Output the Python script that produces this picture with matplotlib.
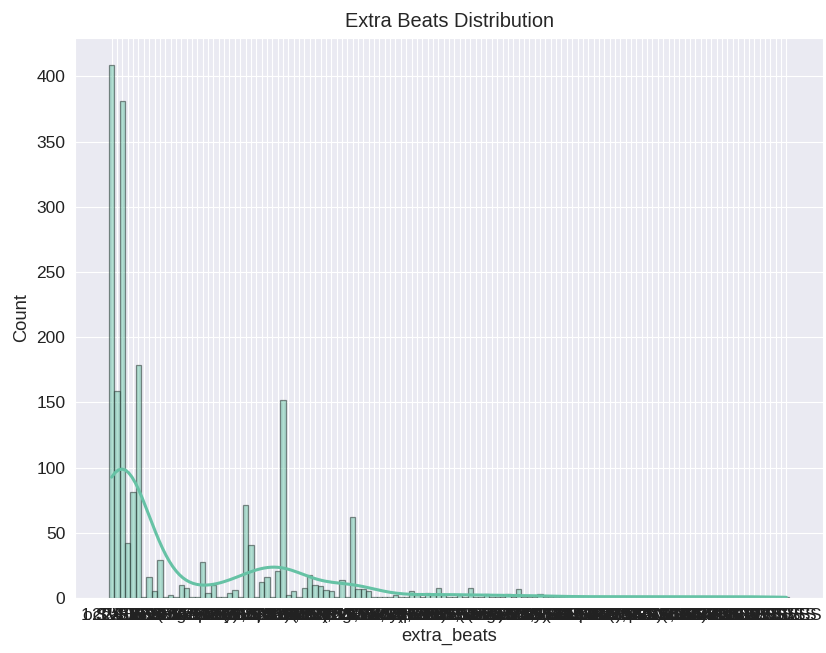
import numpy as np
import pandas as pd
import matplotlib
matplotlib.use("Agg")
import matplotlib.pyplot as plt
import seaborn as sns

# category labels (order of appearance) and how often each one occurs
categories = [
    "1 SVES", "2 VES", "1 VES", "3 SVES", "2 SVES", "4 VES", "occasional VES",
    "5 SVES", "6 VES", "3 VES", "12 SVES", "7 VES (bigeminy)", "9 SVES",
    "8 VES", "4 SVES", "11 SVES, 2 VES", "rare SVES", "5 VES", "10 VES",
    "6 SVES", "14 SVES (couplet)", "frequent VES", "13 VES", "7 SVES",
    "1 SVES, 1 VES", "8 SVES", "9 VES", "2 SVES, 1 VES", "15 SVES",
    "11 VES", "22 SVES (run)", "10 SVES", "12 VES", "19 SVES", "3 SVES, 2 VES",
    "16 VES", "14 VES", "17 SVES", "18 VES", "20 SVES", "4 SVES, 1 VES",
    "24 VES (trigeminy)", "13 SVES", "21 VES", "30 SVES, 3 VES", "15 VES",
    "25 SVES", "17 VES", "28 SVES", "33 VES", "5 SVES, 2 VES", "36 SVES (pairs)",
    "19 VES", "27 SVES", "40 VES", "6 SVES, 3 VES", "23 SVES", "20 VES",
    "44 SVES", "26 VES", "31 SVES", "29 VES", "52 SVES (runs)", "35 VES",
    "8 SVES, 4 VES", "38 SVES", "47 VES", "41 SVES", "58 VES (bigeminy)",
    "45 SVES", "62 VES", "10 SVES, 5 VES", "50 SVES", "66 VES", "56 SVES",
    "71 VES", "63 SVES", "12 SVES, 7 VES", "77 VES", "69 SVES", "84 VES",
    "74 SVES", "90 VES (couplets)", "81 SVES", "96 VES", "88 SVES",
    "15 SVES, 9 VES", "102 VES", "95 SVES", "109 VES", "101 SVES",
    "117 VES (triplet)", "108 SVES", "124 VES", "115 SVES", "20 SVES, 11 VES",
    "131 VES", "122 SVES", "139 VES", "130 SVES", "146 VES (runs)",
    "137 SVES", "152 VES", "145 SVES", "25 SVES, 14 VES", "159 VES",
    "153 SVES", "166 VES", "160 SVES", "173 VES", "168 SVES",
    "180 VES", "176 SVES", "187 SVES", "187 VES", "183 SVES",
    "194 VES", "49 SVES", "201 VES", "57 SVES", "208 VES",
    "64 SVES", "72 SVES", "78 SVES", "86 SVES", "93 SVES",
    "97 SVES", "9 VES",
]
counts = [
    409, 159, 381, 42, 81, 179, 1, 16, 5, 29,
    1, 2, 1, 10, 8, 1, 1, 28, 4, 10,
    1, 1, 4, 6, 1, 71, 40, 1, 12, 16,
    1, 21, 152, 2, 5, 1, 8, 18, 10, 9,
    6, 5, 1, 14, 1, 62, 7, 7, 5, 1,
    1, 1, 1, 2, 1, 1, 5, 2, 1, 4,
    2, 8, 2, 1, 1, 2, 1, 8, 1, 1,
    3, 1, 1, 1, 3, 1, 7, 1, 1, 1,
    3, 1, 1, 1, 1, 1, 1, 1, 1, 1,
    1, 1, 1, 1, 1, 1, 1, 1, 1, 1,
    1, 1, 1, 1, 1, 1, 1, 1, 1, 1,
    1, 1, 1, 1, 1, 1, 1, 1, 1, 1,
    1, 1, 1, 1, 1, 1, 1, 1,
]

df = pd.DataFrame({"extra_beats": np.repeat(categories, counts)})

sns.set_style("darkgrid")
plt.rcParams["font.family"] = ["Liberation Sans", "DejaVu Sans"]

fig = plt.figure(figsize=(8.26, 6.53), dpi=100)
ax = fig.add_axes([0.0908, 0.0842, 0.9056, 0.8576])

sns.histplot(data=df, x="extra_beats", kde=True, color="#66c2a5",
             edgecolor=(0.15, 0.2, 0.18, 0.55), linewidth=0.9,
             line_kws={"linewidth": 2.2}, ax=ax)

ax.set_title("Extra Beats Distribution", fontsize=14.4, pad=8)
ax.set_xlabel("extra_beats", fontsize=13.2, labelpad=4)
ax.set_ylabel("Count", fontsize=13.2)
ax.tick_params(labelsize=12.5, colors="#222222")

fig.savefig("out.png", dpi=100)
